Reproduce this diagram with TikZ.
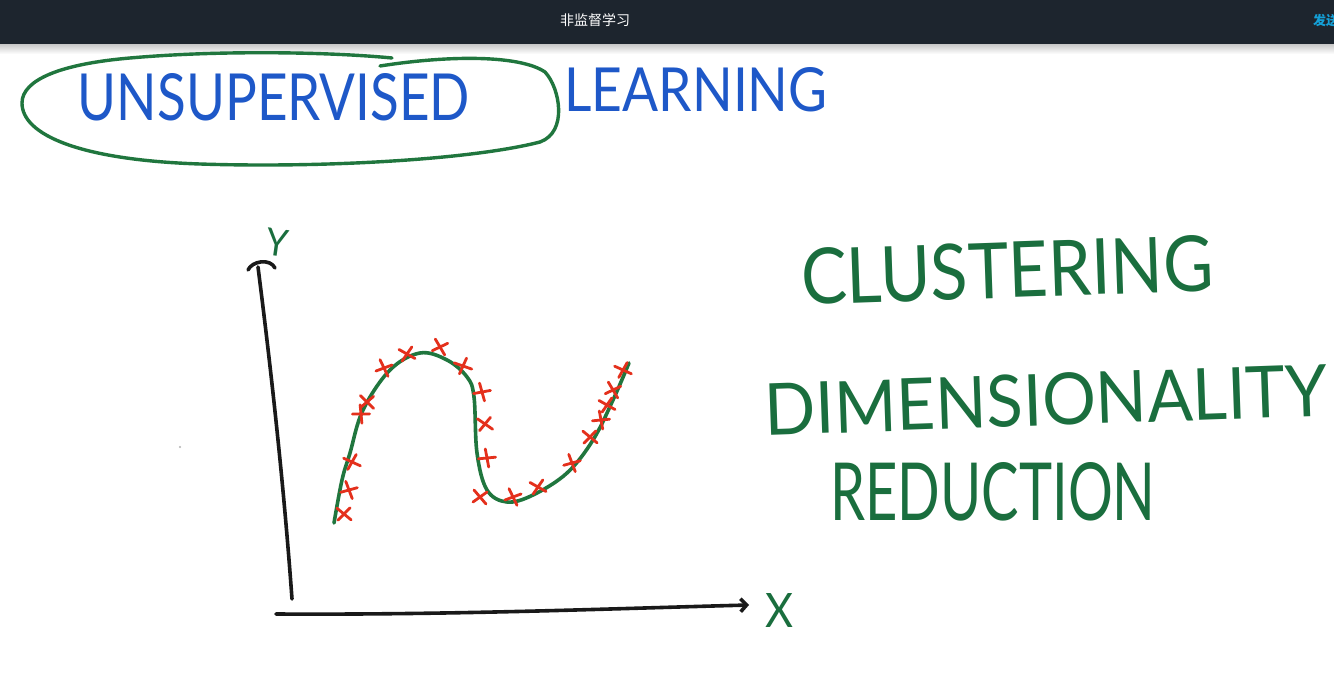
\documentclass[tikz,border=0pt]{standalone}
\usepackage{fontspec}
\newfontfamily\cjk{Noto Sans CJK SC}
\newfontfamily\hand{Lato}
\usetikzlibrary{arrows.meta}
\definecolor{barbg}{RGB}{29,37,46}
\definecolor{sendblue}{RGB}{20,160,215}
\definecolor{inkblue}{RGB}{30,88,200}
\definecolor{inkgreen}{RGB}{26,110,62}
\definecolor{loopgreen}{RGB}{32,118,62}
\definecolor{inkred}{RGB}{228,48,28}
\tikzset{
  axis/.style={draw=black!90, line width=3.6pt, line cap=round, line join=round},
  greencurve/.style={draw=loopgreen, line width=3.6pt, line cap=round, line join=round},
  loopline/.style={draw=loopgreen, line width=3.4pt, line cap=round},
  redm/.style={draw=inkred, line width=2.8pt, line cap=round},
  handtext/.style={inner sep=0pt, outer sep=0pt},
  redx/.pic={\draw[redm] (-6,-7)--(6,7) (-7,5)--(7,-5);}
}
\begin{document}
\begin{tikzpicture}[x=1pt,y=-1pt]
\useasboundingbox (0,0) rectangle (1334,682);
\clip (0,0) rectangle (1334,682);
\fill[white] (0,0) rectangle (1334,682);
% top bar
\shade[top color=black!22, bottom color=white] (0,44) rectangle (1334,54);
\fill[barbg] (0,0) rectangle (1334,44);
\node[text=white, font=\cjk\fontsize{14}{16}\selectfont] (title) at (595,20) {非监督学习};
\node[text=sendblue, font=\cjk\bfseries\fontsize{13}{15}\selectfont, anchor=west, inner sep=0pt] (send) at (1313,21) {发送};
% heading
\node[handtext, text=inkblue] (unsup) at (274,97) {\resizebox{392pt}{47pt}{\hand UNSUPERVISED}};
\node[handtext, text=inkblue] (learn) at (696,90) {\resizebox{263pt}{44pt}{\hand LEARNING}};
% loop round UNSUPERVISED
\draw[loopline] (392,58) .. controls (330,52) and (220,50) .. (130,58)
  .. controls (60,64) and (22,80) .. (22,103)
  .. controls (22,135) and (80,160) .. (200,164)
  .. controls (320,168) and (470,160) .. (540,142)
  .. controls (568,132) and (560,88) .. (545,72)
  .. controls (520,55) and (450,55) .. (380,66);
% axes
\coordinate (yb) at (292,599);
\coordinate (yt) at (258,267);
\coordinate (xb) at (276,614);
\coordinate (xe) at (749,605);
\draw[axis] (yb) .. controls (282,460) and (266,330) .. (yt);
\draw[axis] (248,270) .. controls (252,261) and (270,258) .. (275,268);
\draw[axis, -{Straight Barb[length=6pt,width=13pt]}] (xb) .. controls (450,615) and (600,609) .. (xe);
\node[handtext, text=inkgreen, rotate=-8] (ylab) at (277,243) {\resizebox{22pt}{27pt}{\hand Y}};
\node[handtext, text=inkgreen] (xlab) at (779,610) {\resizebox{28pt}{34pt}{\hand X}};
% data curve
\draw[greencurve] plot[smooth, tension=0.6] coordinates {(334,523) (342,480) (350,453) (363,410) (390,370) (420,353) (447,360) (467,377) (474,397) (477,453) (487,490) (507,502) (533,495) (567,473) (593,440) (613,400) (629,363)};
% red marks
\foreach \p/\a in {(344,514)/10,(349,490)/-20,(352,462)/25,(361,414)/-35,(367,402)/5,(384,368)/-15,(407,354)/20,(440,347)/-10,(463,366)/30,(482,392)/-25,(485,424)/15,(487,458)/-30,(480,497)/0,(513,497)/-15,(538,487)/20,(572,463)/-20,(590,437)/10,(601,420)/-30,(607,405)/20,(613,390)/-10,(623,370)/25}
  \pic[rotate=\a] at \p {redx};
\fill[black!30] (180,447) circle (1.2);
% right-hand terms
\node[handtext, text=inkgreen, rotate=2] (clust) at (1007,270) {\resizebox{412pt}{56pt}{\hand CLUSTERING}};
\node[handtext, text=inkgreen, rotate=2] (dimen) at (1046,400) {\resizebox{563pt}{52pt}{\hand DIMENSIONALITY}};
\node[handtext, text=inkgreen] (reduc) at (993,492) {\resizebox{325pt}{58pt}{\hand REDUCTION}};
\end{tikzpicture}
\end{document}
